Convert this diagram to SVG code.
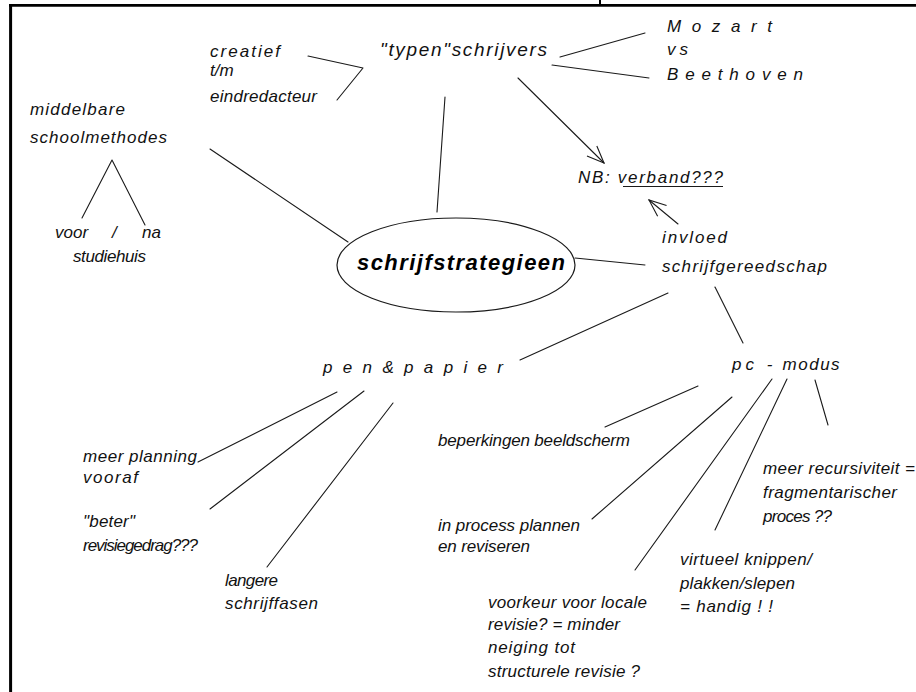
<svg xmlns="http://www.w3.org/2000/svg" width="916" height="692" viewBox="0 0 916 692">
<style>
.t{font-family:"Liberation Sans",Arial,sans-serif;font-style:italic;font-size:17px;fill:#111;}
.big{font-size:19px;}
.main{font-family:"Liberation Sans",Arial,sans-serif;font-style:italic;font-weight:bold;font-size:22px;fill:#000;}
.c{stroke:#1a1a1a;stroke-width:1.1;fill:none;stroke-linecap:round;stroke-linejoin:round;}
.arr{marker-end:url(#open);}
.frame{stroke:#000;fill:none;}
</style>
<defs>
<marker id="open" viewBox="0 0 20 20" refX="18" refY="10" markerWidth="20" markerHeight="20" markerUnits="userSpaceOnUse" orient="auto">
<path d="M1,3 L18,10 L1,17" fill="none" stroke="#1a1a1a" stroke-width="1.1"/>
</marker>
</defs>
<rect width="916" height="692" fill="#fff"/>
<g id="frame">
<line class="frame" x1="9" y1="5.3" x2="916" y2="5.3" stroke-width="2.7"/>
<line class="frame" x1="10.6" y1="4" x2="10.6" y2="692" stroke-width="3"/>
<line class="frame" x1="600" y1="0" x2="600" y2="5" stroke-width="2"/>
</g>
<g id="connectors">
<polyline class="c" points="308,56 363,68 337,100"/>
<line class="c" x1="560" y1="57" x2="645" y2="33"/>
<line class="c" x1="552" y1="65" x2="649" y2="78"/>
<line class="c" x1="445" y1="97" x2="437" y2="212"/>
<line class="c" x1="210" y1="149" x2="348" y2="242"/>
<polyline class="c" points="82,218 112,160 145,225"/>
<line class="c arr" x1="518" y1="78" x2="604" y2="163"/>
<line class="c arr" x1="678" y1="224" x2="649" y2="200"/>
<line class="c" x1="575" y1="258" x2="645" y2="265"/>
<line class="c" x1="668" y1="293" x2="520" y2="360"/>
<line class="c" x1="715" y1="287" x2="743" y2="343"/>
<line class="c" x1="337" y1="392" x2="198" y2="462"/>
<line class="c" x1="364" y1="391" x2="210" y2="509"/>
<line class="c" x1="393" y1="403" x2="267" y2="567"/>
<line class="c" x1="698" y1="386" x2="605" y2="427"/>
<line class="c" x1="732" y1="397" x2="592" y2="519"/>
<line class="c" x1="772" y1="379" x2="635" y2="570"/>
<line class="c" x1="787" y1="379" x2="715" y2="530"/>
<line class="c" x1="815" y1="380" x2="828" y2="425"/>
</g>
<g id="center">
<ellipse cx="456" cy="265" rx="119" ry="47" fill="none" stroke="#1a1a1a" stroke-width="1.2"/>
<text class="main" x="357" y="270" textLength="208">schrijfstrategieen</text>
</g>
<g id="typen">
<text class="t big" x="380" y="56" textLength="167">"typen"schrijvers</text>
</g>
<g id="creatief">
<text class="t" x="210" y="57" textLength="70">creatief</text>
<text class="t" x="210" y="76">t/m</text>
<text class="t" x="210" y="102" textLength="107">eindredacteur</text>
</g>
<g id="mozart">
<text class="t" x="667" y="32" textLength="105">Mozart</text>
<text class="t" x="667" y="55" textLength="21">vs</text>
<text class="t" x="667" y="80" textLength="136">Beethoven</text>
</g>
<g id="middelbare">
<text class="t" x="30" y="115" textLength="95">middelbare</text>
<text class="t" x="30" y="143" textLength="137">schoolmethodes</text>
</g>
<g id="voorna">
<text class="t" x="55" y="238">voor<tspan x="112">/</tspan><tspan x="142">na</tspan></text>
<text class="t" x="73" y="262" textLength="73">studiehuis</text>
</g>
<g id="nb">
<text class="t" x="578" y="183" textLength="145">NB: verband???</text>
<line x1="623" y1="186.5" x2="723" y2="186.5" stroke="#1a1a1a" stroke-width="1.2"/>
</g>
<g id="invloed">
<text class="t" x="662" y="243" textLength="65">invloed</text>
<text class="t" x="662" y="272" textLength="165">schrijfgereedschap</text>
</g>
<g id="penpapier">
<text class="t" x="323" y="373" textLength="180">pen&amp;papier</text>
</g>
<g id="pcmodus">
<text class="t" x="732" y="370" letter-spacing="4">pc -<tspan letter-spacing="1.5"> modus</tspan></text>
</g>
<g id="planning">
<text class="t" x="83" y="462" textLength="114">meer planning</text>
<text class="t" x="83" y="483" textLength="55">vooraf</text>
</g>
<g id="beter">
<text class="t" x="83" y="527" textLength="52">"beter"</text>
<text class="t" x="83" y="551" textLength="115">revisiegedrag???</text>
</g>
<g id="langere">
<text class="t" x="225" y="586" textLength="53">langere</text>
<text class="t" x="225" y="609" textLength="93">schrijffasen</text>
</g>
<g id="beperkingen">
<text class="t" x="438" y="446" textLength="192">beperkingen beeldscherm</text>
</g>
<g id="inprocess">
<text class="t" x="438" y="531" textLength="142">in process plannen</text>
<text class="t" x="438" y="552" textLength="92">en reviseren</text>
</g>
<g id="voorkeur">
<text class="t" x="488" y="608" textLength="159">voorkeur voor locale</text>
<text class="t" x="488" y="630" textLength="132">revisie? = minder</text>
<text class="t" x="488" y="653" textLength="87">neiging tot</text>
<text class="t" x="488" y="677" textLength="152">structurele revisie ?</text>
</g>
<g id="virtueel">
<text class="t" x="680" y="565" textLength="132">virtueel knippen/</text>
<text class="t" x="680" y="589" textLength="115">plakken/slepen</text>
<text class="t" x="680" y="612" textLength="93">= handig ! !</text>
</g>
<g id="recursiviteit">
<text class="t" x="763" y="474" textLength="152">meer recursiviteit =</text>
<text class="t" x="763" y="498" textLength="134">fragmentarischer</text>
<text class="t" x="763" y="522" textLength="69">proces ??</text>
</g>
</svg>
